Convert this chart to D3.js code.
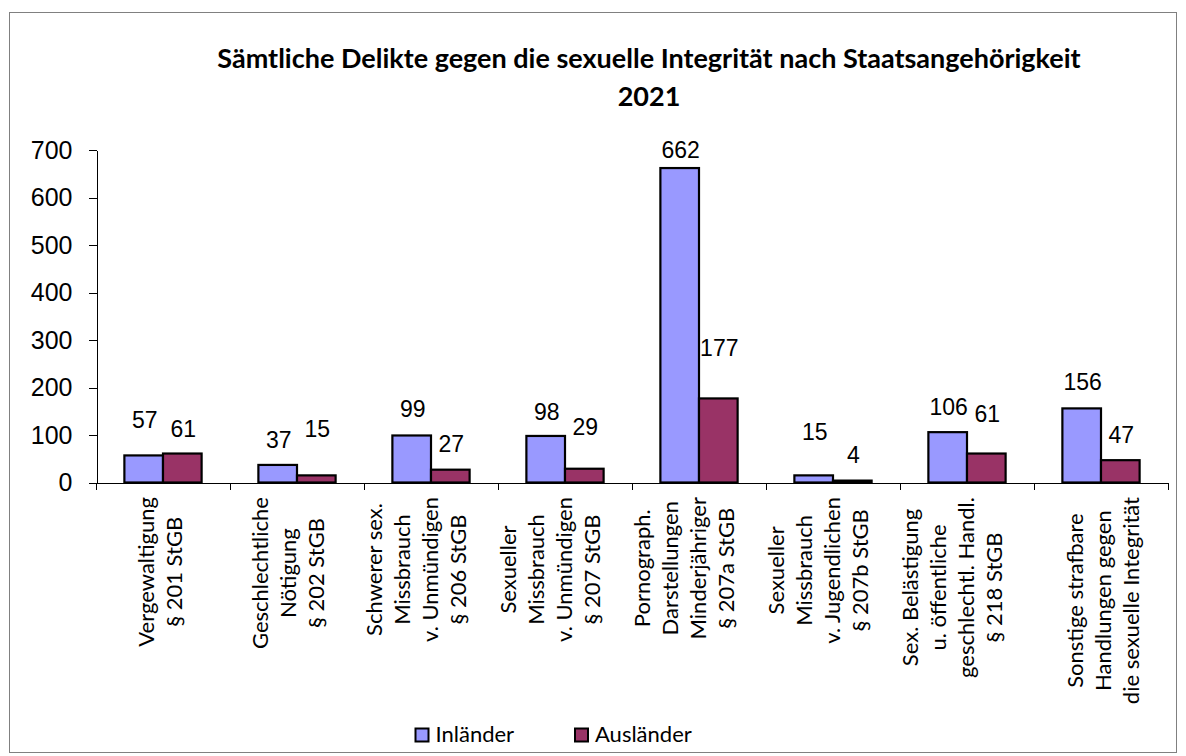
<!DOCTYPE html>
<html lang="de">
<head>
<meta charset="utf-8">
<title>Sämtliche Delikte gegen die sexuelle Integrität nach Staatsangehörigkeit 2021</title>
<script src="https://cdn.jsdelivr.net/npm/d3@7"></script>
<style>
  body { margin: 0; background: #fff; }
  .axis path, .axis line { stroke: black; shape-rendering: crispEdges; }
  .axis text { font-family: "Liberation Sans", Arial, sans-serif; font-size: 25px; fill: black; }
  .title { font-family: Lato, sans-serif; font-weight: bold; font-size: 27px; text-anchor: middle; }
  .val { font-family: "Liberation Sans", Arial, sans-serif; font-size: 23px; text-anchor: middle; }
  .cat { font-family: Lato, sans-serif; font-size: 22px; }
  .legend { font-family: Lato, sans-serif; font-size: 22px; }
</style>
</head>
<body>
<script>
// data
var categories = [
  ["Vergewaltigung", "§ 201 StGB"],
  ["Geschlechtliche", "Nötigung", "§ 202 StGB"],
  ["Schwerer sex.", "Missbrauch", "v. Unmündigen", "§ 206 StGB"],
  ["Sexueller", "Missbrauch", "v. Unmündigen", "§ 207 StGB"],
  ["Pornograph.", "Darstellungen", "Minderjähriger", "§ 207a StGB"],
  ["Sexueller", "Missbrauch", "v. Jugendlichen", "§ 207b StGB"],
  ["Sex. Belästigung", "u. öffentliche", "geschlechtl. Handl.", "§ 218 StGB"],
  ["Sonstige strafbare", "Handlungen gegen", "die sexuelle Integrität"]
];
var seriesNames = ["Inländer", "Ausländer"];
var inlaender = [57, 37, 99, 98, 662, 15, 106, 156];
var auslaender = [61, 15, 27, 29, 177, 4, 61, 47];
var yTicks = [0, 100, 200, 300, 400, 500, 600, 700];
var titleLines = ["Sämtliche Delikte gegen die sexuelle Integrität nach Staatsangehörigkeit", "2021"];

// layout tweaks copied from the original placement (px)
var liftInl = [27, 17, 18, 16, 10, 35, 17, 18];
var liftAus = [17, 38, 18, 34, 42, 18, 32, 17];
var catShift = [-3, -9, -15, -15, -15, -15, -15, 2];

var colors = ["#9999ff", "#993366"];
var W = 1186, H = 756;

var svg = d3.select("body").append("svg").attr("width", W).attr("height", H);

svg.append("rect").attr("x", 9.5).attr("y", 12.5).attr("width", 1167).attr("height", 740)
   .attr("fill", "white").attr("stroke", "#808080").attr("stroke-width", 1);

var catIdx = categories.map(function(d, i) { return i; });
var x0 = d3.scaleBand().domain(catIdx).range([96, 1168]).padding(0);
var x1 = d3.scaleBand().domain([0, 1]).range([0, x0.bandwidth()]).paddingInner(0).paddingOuter(0.735);
var y = d3.scaleLinear().domain([0, 700]).range([482.5, 150]);

// title
svg.selectAll(".title").data(titleLines).enter().append("text")
   .attr("class", "title")
   .attr("x", 649).attr("y", function(d, i) { return 68 + i * 38; })
   .text(function(d) { return d; });

// y axis
svg.append("g").attr("class", "axis")
   .attr("transform", "translate(96.5,0)")
   .call(d3.axisLeft(y).tickValues(yTicks).tickSize(8).tickPadding(16).tickSizeOuter(0));

// bars
var rows = catIdx.map(function(i) { return [inlaender[i], auslaender[i]]; });
var lifts = [liftInl, liftAus];

var g = svg.selectAll(".grp").data(rows).enter().append("g")
   .attr("transform", function(d, i) { return "translate(" + x0(i) + ",0)"; });

g.selectAll("rect").data(function(d) { return d; }).enter().append("rect")
   .attr("x", function(d, j) { return x1(j); })
   .attr("y", function(d) { return y(d); })
   .attr("width", x1.bandwidth())
   .attr("height", function(d) { return y(0) - y(d); })
   .attr("fill", function(d, j) { return colors[j]; })
   .attr("stroke", "black").attr("stroke-width", 2.2);

g.selectAll(".val").data(function(d, i) { return d.map(function(v, j) { return [v, j, i]; }); })
   .enter().append("text")
   .attr("class", "val")
   .attr("x", function(d) { return x1(d[1]) + x1.bandwidth() / 2 + 1; })
   .attr("y", function(d) { return y(d[0]) - lifts[d[1]][d[2]]; })
   .text(function(d) { return d[0]; });

// x axis with ticks at category boundaries
var xb = d3.scaleLinear().domain([0, categories.length]).range([96, 1168]);
svg.append("g").attr("class", "axis")
   .attr("transform", "translate(0,482.5)")
   .call(d3.axisBottom(xb).ticks(categories.length).tickSize(7).tickSizeOuter(0).tickFormat(""));

// category labels, rotated, centred lines
var lh = 28;
catIdx.forEach(function(i) {
  var lines = categories[i];
  var cx = x0(i) + x0.bandwidth() / 2 + catShift[i];
  var t = svg.append("text").attr("class", "cat").attr("text-anchor", "middle");
  lines.forEach(function(s, k) {
    t.append("tspan").attr("x", 0).attr("y", (k - (lines.length - 1) / 2) * lh + 8).text(s);
  });
  var maxLen = d3.max(t.selectAll("tspan").nodes(), function(n) { return n.getComputedTextLength(); });
  t.attr("transform", "translate(" + cx + "," + (497 + maxLen / 2) + ") rotate(-90)");
});

// legend
var lx = [415.5, 575];
seriesNames.forEach(function(s, j) {
  svg.append("rect").attr("x", lx[j]).attr("y", 728.5).attr("width", 13).attr("height", 13)
     .attr("fill", colors[j]).attr("stroke", "black").attr("stroke-width", 2);
  svg.append("text").attr("class", "legend").attr("x", lx[j] + 20).attr("y", 742).text(s);
});
</script>
</body>
</html>
